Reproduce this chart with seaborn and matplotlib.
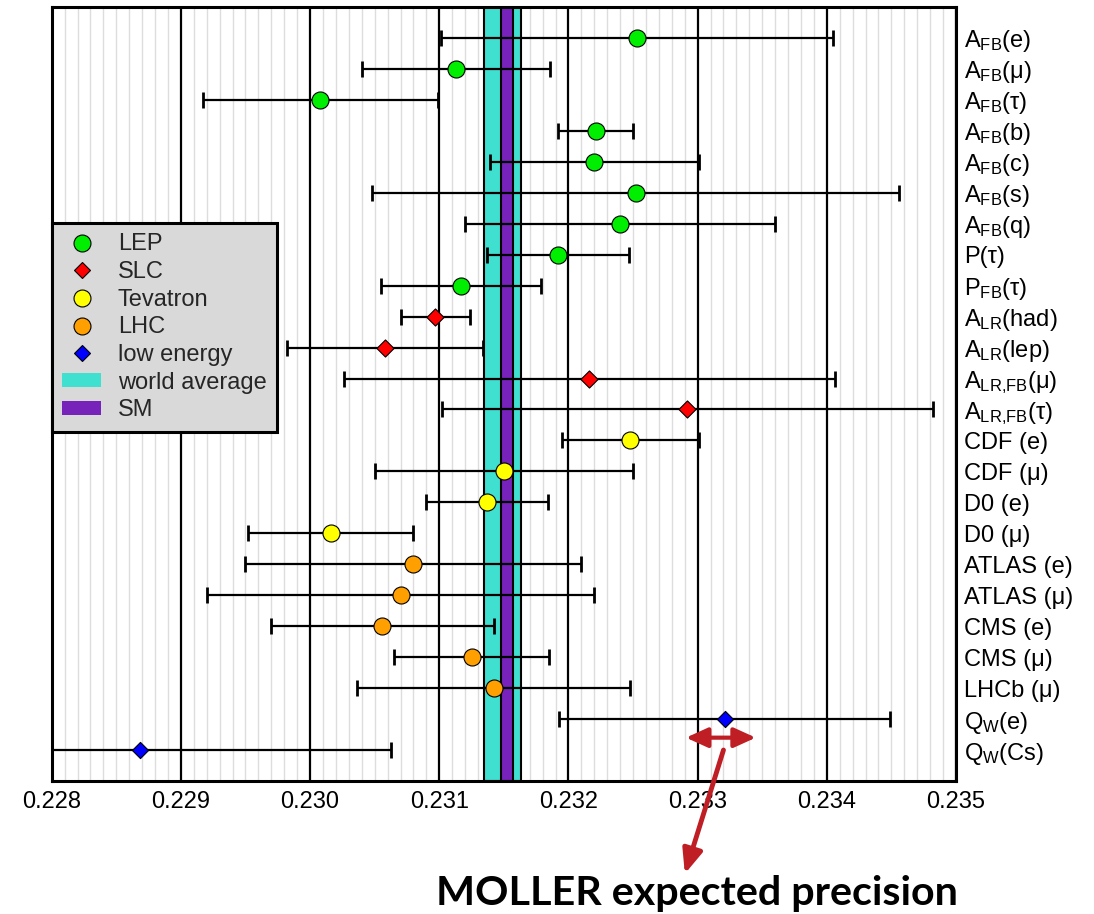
import numpy as np
import pandas as pd
import matplotlib
matplotlib.use('Agg')
import matplotlib.pyplot as plt
import seaborn as sns
from matplotlib.lines import Line2D
from matplotlib.patches import Patch
from matplotlib.ticker import MultipleLocator, FormatStrFormatter

# ---------------- data ----------------
labels = [r'A$_{\rm FB}$(e)', r'A$_{\rm FB}$(μ)', r'A$_{\rm FB}$(τ)', r'A$_{\rm FB}$(b)',
          r'A$_{\rm FB}$(c)', r'A$_{\rm FB}$(s)', r'A$_{\rm FB}$(q)', 'P(τ)',
          r'P$_{\rm FB}$(τ)', r'A$_{\rm LR}$(had)', r'A$_{\rm LR}$(lep)',
          r'A$_{\rm LR{,}FB}$(μ)', r'A$_{\rm LR{,}FB}$(τ)', 'CDF (e)', 'CDF (μ)',
          'D0 (e)', 'D0 (μ)', 'ATLAS (e)', 'ATLAS (μ)', 'CMS (e)', 'CMS (μ)',
          'LHCb (μ)', r'Q$_{\rm W}$(e)', r'Q$_{\rm W}$(Cs)']
values = [0.23253, 0.23113, 0.23008, 0.23221, 0.23220, 0.23252, 0.23240, 0.23192,
          0.23117, 0.23097, 0.23058, 0.23216, 0.23292, 0.23248, 0.23150, 0.23137,
          0.23016, 0.23080, 0.23070, 0.23056, 0.23125, 0.23142, 0.23321, 0.22868]
errors = [0.00152, 0.00073, 0.00091, 0.00029, 0.00081, 0.00204, 0.00120, 0.00055,
          0.00062, 0.00027, 0.00076, 0.00190, 0.00190, 0.00053, 0.00100, 0.00047,
          0.00064, 0.00130, 0.00150, 0.00086, 0.00060, 0.00106, 0.00128, 0.00195]
groups = ['LEP'] * 9 + ['SLC'] * 4 + ['Tevatron'] * 4 + ['LHC'] * 5 + ['low energy'] * 2
group_order = ['LEP', 'SLC', 'Tevatron', 'LHC', 'low energy']

world_avg, world_err = 0.23149, 0.00014
sm_val, sm_err = 0.231525, 0.000047
moller_center, moller_err = 0.23318, 0.00027

xticks = [0.228, 0.229, 0.230, 0.231, 0.232, 0.233, 0.234, 0.235]

# ---------------- style ----------------
colors = {'LEP': '#00ee00', 'SLC': '#ff0000', 'Tevatron': '#ffff00',
          'LHC': '#ffa000', 'low energy': '#0000ff'}
markers = {'LEP': 'o', 'SLC': 'D', 'Tevatron': 'o', 'LHC': 'o', 'low energy': 'D'}
sizes = {'LEP': 150, 'SLC': 76, 'Tevatron': 150, 'LHC': 150, 'low energy': 68}
cyan = '#40e0d0'
purple = '#7722bb'
arrow_red = '#be1e24'

sns.set_theme(style='white')
plt.rcParams['font.family'] = ['Liberation Sans', 'DejaVu Sans']
plt.rcParams['mathtext.fontset'] = 'custom'
plt.rcParams['mathtext.rm'] = 'Liberation Sans'
plt.rcParams['mathtext.it'] = 'Liberation Sans:italic'
plt.rcParams['mathtext.bf'] = 'Liberation Sans:bold'

df = pd.DataFrame({'label': labels, 'value': values, 'err': errors, 'group': groups})
df['row'] = np.arange(1, len(df) + 1)

fig = plt.figure(figsize=(10.94, 9.14), dpi=100)
ax = fig.add_axes([0.04726, 0.14551, 0.8266, 0.8468])

# bands
ax.axvspan(world_avg - world_err, world_avg + world_err, facecolor=cyan,
           edgecolor='black', lw=1.5, zorder=2)
ax.axvspan(sm_val - sm_err, sm_val + sm_err, facecolor=purple,
           edgecolor='black', lw=1.5, zorder=2.1)

# error bars
ax.errorbar(df['value'], df['row'], xerr=df['err'], fmt='none', ecolor='black',
            elinewidth=1.6, capsize=5.6, capthick=2, zorder=3)

# markers
for g in group_order:
    sub = df[df['group'] == g]
    sns.scatterplot(data=sub, x='value', y='row', marker=markers[g], s=sizes[g],
                    color=colors[g], edgecolor='black', linewidth=0.8,
                    ax=ax, zorder=4, legend=False)

ax.set_xlim(xticks[0], xticks[-1])
ax.set_ylim(len(df) + 1, 0)
ax.set_xticks(xticks)
ax.xaxis.set_major_formatter(FormatStrFormatter('%.3f'))
ax.xaxis.set_minor_locator(MultipleLocator(0.0001))
ax.grid(which='major', axis='x', color='black', lw=1.6, zorder=1.5)
ax.grid(which='minor', axis='x', color='#dddddd', lw=1.0, zorder=1.4)
ax.grid(False, axis='y', which='both')
ax.set_axisbelow(True)

ax.yaxis.tick_right()
ax.set_yticks(df['row'])
ax.set_yticklabels(df['label'])
ax.tick_params(axis='both', which='both', length=0, labelsize=17, colors='black')
ax.tick_params(axis='x', pad=7)
ax.tick_params(axis='y', pad=6)
ax.set_xlabel('')
ax.set_ylabel('')
for sp in ax.spines.values():
    sp.set_visible(True)
    sp.set_color('black')
    sp.set_linewidth(2.2)

# legend
handles = [Line2D([], [], linestyle='none', marker=markers[g],
                  markersize=(12.2 if markers[g] == 'o' else 8.6),
                  markerfacecolor=colors[g], markeredgecolor='black', markeredgewidth=0.8)
           for g in group_order]
handles += [Patch(facecolor=cyan, edgecolor='none'), Patch(facecolor=purple, edgecolor='none')]
leg_labels = group_order + ['world average', 'SM']
leg = ax.legend(handles, leg_labels, loc='upper left', bbox_to_anchor=(0, 0.7213),
                borderaxespad=0, fontsize=17, frameon=True, fancybox=False,
                facecolor='#d9d9d9', edgecolor='black', framealpha=1,
                handlelength=1.65, handleheight=0.54, handletextpad=0.7,
                labelspacing=0.24, borderpad=0.45)
leg.get_frame().set_linewidth(2.2)
leg.set_zorder(6)

# MOLLER annotation
ax.annotate('', xy=(moller_center - moller_err, 23.6), xytext=(moller_center + moller_err, 23.6),
            arrowprops=dict(arrowstyle='<|-|>,head_length=1.1,head_width=0.5', color=arrow_red,
                            lw=3.0, shrinkA=0, shrinkB=0, mutation_scale=12),
            annotation_clip=False, zorder=7)
ax.annotate('', xy=(0.626, 0.044), xycoords='figure fraction',
            xytext=(moller_center + 0.00002, 24.0), textcoords='data',
            arrowprops=dict(arrowstyle='-|>,head_length=1.2,head_width=0.5', color=arrow_red,
                            lw=3.5, shrinkA=0, shrinkB=0, mutation_scale=12),
            annotation_clip=False, zorder=7)
fig.text(0.637, 0.022, 'MOLLER expected precision', ha='center', va='center',
         fontsize=29.7, fontweight='bold', family='Lato', color='black')

fig.savefig('out.png', dpi=100)
